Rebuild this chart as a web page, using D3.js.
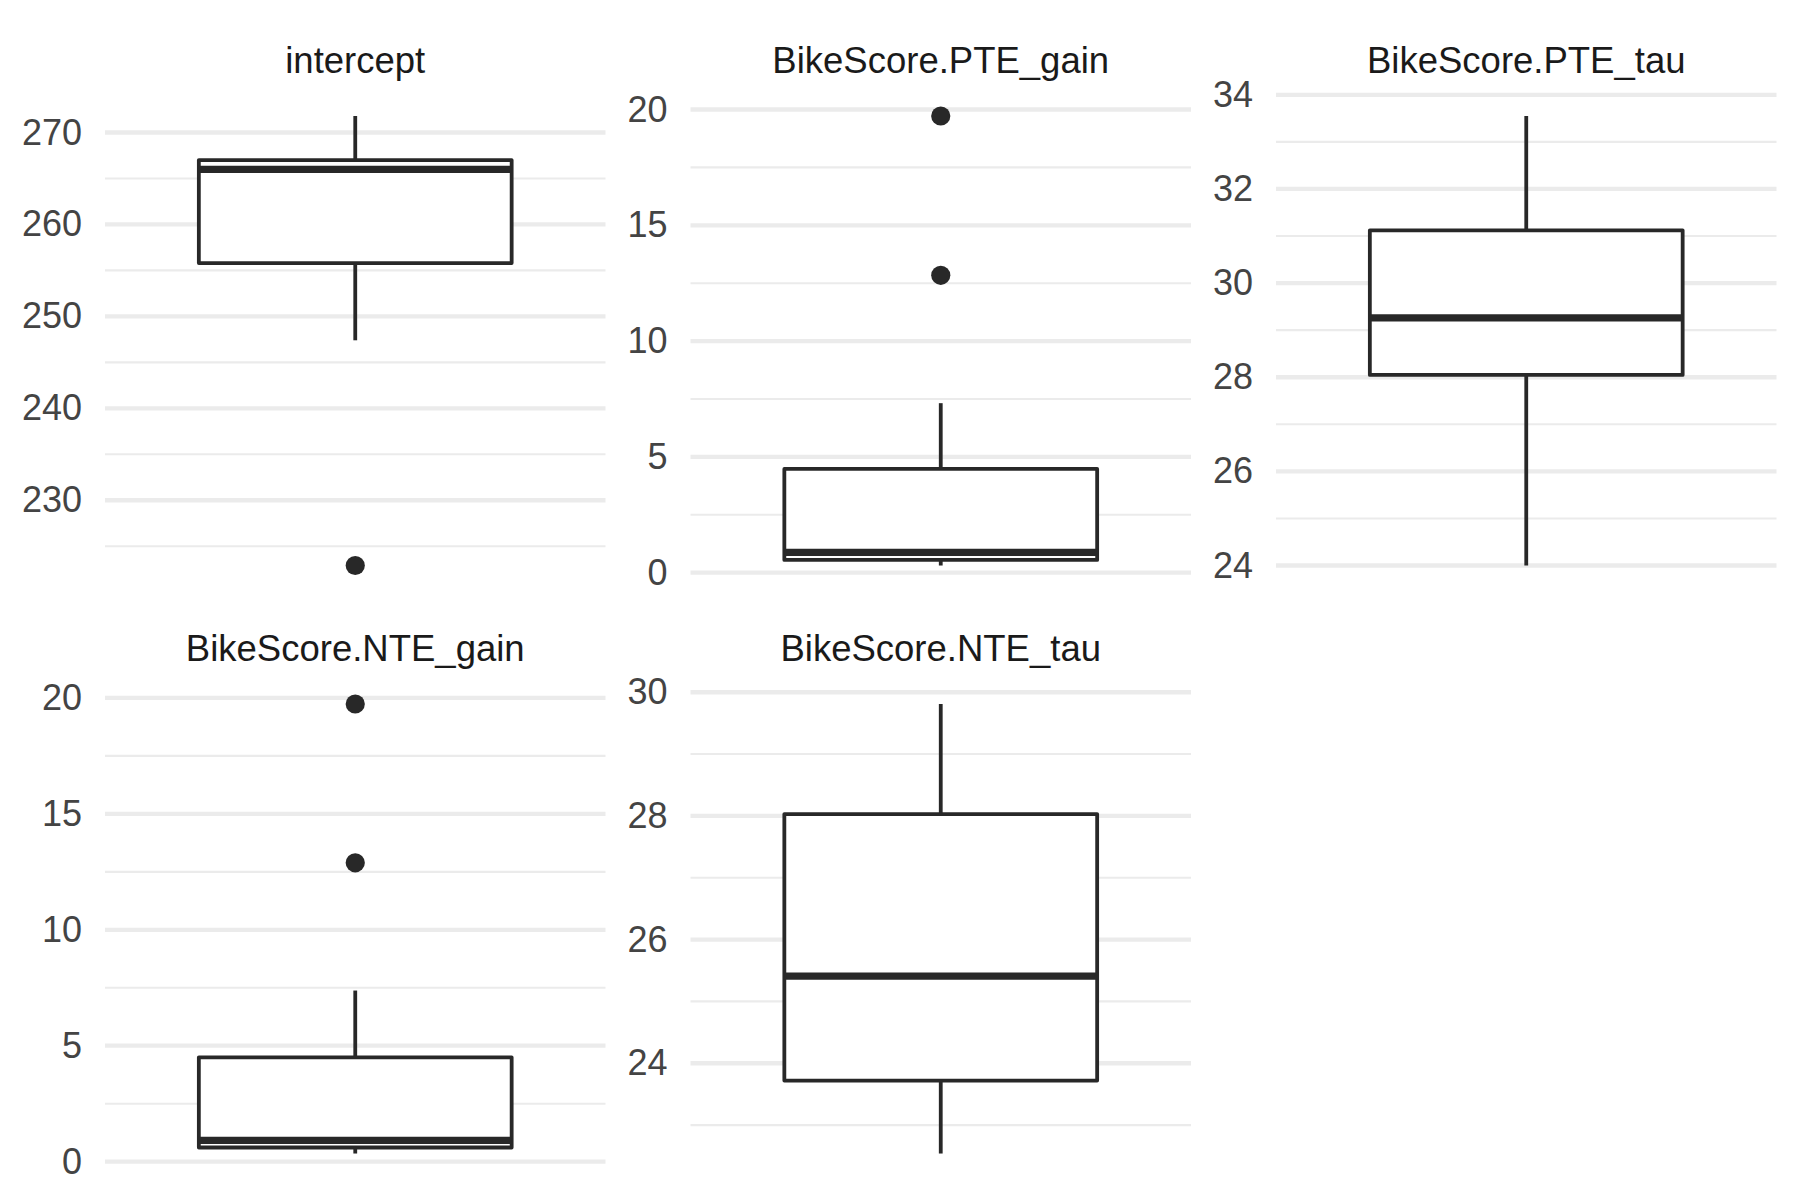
<!DOCTYPE html>
<html>
<head>
<meta charset="utf-8">
<script src="https://cdn.jsdelivr.net/npm/d3@7"></script>
<style>
  body { margin: 0; background: #fff; }
  text { font-family: "Liberation Sans", Arial, Helvetica, sans-serif; }
</style>
</head>
<body>
<svg id="chart" width="1800" height="1200"></svg>
<script>
// facet names, in drawing order (row by row)
const panels = ['intercept', 'BikeScore.PTE_gain', 'BikeScore.PTE_tau', 'BikeScore.NTE_gain', 'BikeScore.NTE_tau'];

// five-number summaries
const lowerWhisker = [247.4, 0.31, 24.0, 0.35, 22.54];
const q1 = [255.8, 0.55, 28.05, 0.61, 23.72];
const median = [266.0, 0.88, 29.26, 0.92, 25.41];
const q3 = [267.0, 4.48, 31.12, 4.50, 28.03];
const upperWhisker = [271.8, 7.32, 33.55, 7.38, 29.81];
const outliers = [[222.9], [12.84, 19.72], [], [12.89, 19.74], []];

// y tick labels per facet
const majorTicks = [
  [230, 240, 250, 260, 270],
  [0, 5, 10, 15, 20],
  [24, 26, 28, 30, 32, 34],
  [0, 5, 10, 15, 20],
  [24, 26, 28, 30]
];

const svg = d3.select('#chart');
const boxColor = '#282828';
const gridColor = '#ebebeb';
const lineW = 3.8;

// layout of the facet grid
const panelW = 500.5, panelH = 494.5;
const colX = [105, 690.5, 1276];
const rowY = [93.5, 681.5];

panels.forEach((name, i) => {
  const col = i % 3, row = Math.floor(i / 3);
  const g = svg.append('g')
    .attr('transform', `translate(${colX[col]},${rowY[row]})`);

  // free y scale, 5% expansion like ggplot
  const values = [lowerWhisker[i], upperWhisker[i], ...outliers[i]];
  const [lo, hi] = d3.extent(values);
  const pad = (hi - lo) * 0.05;
  const y = d3.scaleLinear().domain([lo - pad, hi + pad]).range([panelH, 0]);
  const x = d3.scaleLinear().domain([0.4, 1.6]).range([0, panelW]);

  // minor breaks sit half way between the majors
  const ticks = majorTicks[i];
  const step = ticks[1] - ticks[0];
  const minor = d3.range(ticks[0] - step / 2, ticks[ticks.length - 1] + step, step)
    .filter(v => v >= y.domain()[0] && v <= y.domain()[1]);

  g.selectAll('.minor').data(minor).enter()
    .append('line')
    .attr('class', 'minor')
    .attr('x1', 0).attr('x2', panelW)
    .attr('y1', d => y(d)).attr('y2', d => y(d))
    .attr('stroke', gridColor).attr('stroke-width', 2.1);

  g.selectAll('.major').data(ticks).enter()
    .append('line')
    .attr('class', 'major')
    .attr('x1', 0).attr('x2', panelW)
    .attr('y1', d => y(d)).attr('y2', d => y(d))
    .attr('stroke', gridColor).attr('stroke-width', 4.3);

  // y axis, text only
  const axis = d3.axisLeft(y).tickValues(ticks).tickSize(0).tickPadding(23);
  const ax = g.append('g').call(axis);
  ax.select('.domain').remove();
  ax.selectAll('text')
    .attr('fill', '#444444')
    .style('font-size', '36px')
    .style('font-family', '"Liberation Sans", Arial, sans-serif');

  // strip title
  g.append('text')
    .attr('x', panelW / 2)
    .attr('y', -21)
    .attr('text-anchor', 'middle')
    .attr('fill', '#1a1a1a')
    .style('font-size', '36.5px')
    .text(name);

  // whiskers
  g.append('line')
    .attr('x1', x(1)).attr('x2', x(1))
    .attr('y1', y(q3[i])).attr('y2', y(upperWhisker[i]))
    .attr('stroke', boxColor).attr('stroke-width', lineW);
  g.append('line')
    .attr('x1', x(1)).attr('x2', x(1))
    .attr('y1', y(q1[i])).attr('y2', y(lowerWhisker[i]))
    .attr('stroke', boxColor).attr('stroke-width', lineW);

  // box
  g.append('rect')
    .attr('x', x(1 - 0.375))
    .attr('width', x(1 + 0.375) - x(1 - 0.375))
    .attr('y', y(q3[i]))
    .attr('height', y(q1[i]) - y(q3[i]))
    .attr('fill', '#fff')
    .attr('stroke', boxColor).attr('stroke-width', lineW)
    .attr('stroke-linejoin', 'round');

  // median
  g.append('line')
    .attr('x1', x(1 - 0.375)).attr('x2', x(1 + 0.375))
    .attr('y1', y(median[i])).attr('y2', y(median[i]))
    .attr('stroke', boxColor).attr('stroke-width', 7.3);

  // outliers
  g.selectAll('.outlier').data(outliers[i]).enter()
    .append('circle')
    .attr('class', 'outlier')
    .attr('cx', x(1))
    .attr('cy', d => y(d))
    .attr('r', 9.6)
    .attr('fill', boxColor);
});
</script>
</body>
</html>
